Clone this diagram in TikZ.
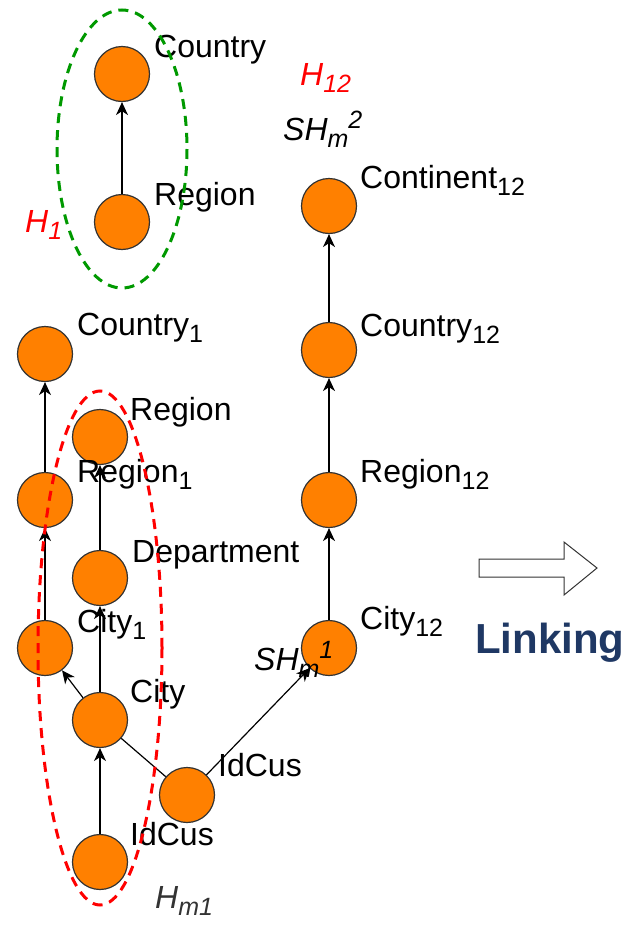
\documentclass[tikz,border=0pt]{standalone}
\usepackage{fontspec}
\setmainfont{Liberation Sans}
\usepackage{tikz}
\usetikzlibrary{arrows.meta, positioning}
\definecolor{nodefill}{RGB}{255,128,0}
\definecolor{nodeline}{RGB}{51,51,51}
\definecolor{hgreen}{RGB}{0,153,0}
\definecolor{linkblue}{RGB}{31,56,100}
\newcommand{\lsub}[1]{\raisebox{-7pt}{\fontsize{25}{28}\selectfont #1}}
\newcommand{\lsup}[1]{\raisebox{12pt}{\fontsize{25}{28}\selectfont #1}}

\begin{document}
\begin{tikzpicture}[
  x=1pt, y=-1pt,
  vertex/.style={circle, draw=nodeline, line width=1.2pt, fill=nodefill, minimum size=55pt, inner sep=0pt},
  lbl/.style={anchor=base west, inner sep=0pt, font=\fontsize{32}{38}\selectfont},
  hname/.style={anchor=base west, inner sep=0pt, font=\fontsize{32}{38}\selectfont\itshape},
  edge/.style={-{Stealth[length=13pt, width=12pt, inset=4pt]}, line width=1.2pt},
  hier/.style={line width=3pt, dash pattern=on 10pt off 7pt}
]
  \useasboundingbox (0,0) rectangle (628,929);

  % Column X coordinates
  \def\aX{45}
  \def\bX{100}
  \def\hX{122}
  \def\iX{187}
  \def\sX{329}

  % Hierarchy H1
  \node[vertex] (ctryH) at (\hX, 74) {};
  \node[vertex] (regH)  at (\hX, 222) {};

  % Hierarchy H12 (SHm2)
  \node[vertex] (cont12) at (\sX, 206) {};
  \node[vertex] (ctry12) at (\sX, 350) {};
  \node[vertex] (reg12)  at (\sX, 500) {};
  \node[vertex] (city12) at (\sX, 648) {};

  % Hierarchy Hm1 and SHm1
  \node[vertex] (ctry1) at (\aX, 354) {};
  \node[vertex] (reg1)  at (\aX, 500) {};
  \node[vertex] (city1) at (\aX, 648) {};
  \node[vertex] (reg)   at (\bX, 437) {};
  \node[vertex] (dept)  at (\bX, 578) {};
  \node[vertex] (city)  at (\bX, 720) {};
  \node[vertex] (idB)   at (\bX, 862) {};
  \node[vertex] (idR)   at (\iX, 795) {};

  % Roll-up arrows
  \draw[edge] (regH) -- (ctryH);
  \draw[edge] (ctry12) -- (cont12);
  \draw[edge] (reg12) -- (ctry12);
  \draw[edge] (city12) -- (reg12);
  \draw[edge] (reg1) -- (ctry1);
  \draw[edge] (city1) -- (reg1);
  \draw[edge] (dept) -- (reg);
  \draw[edge] (city) -- (dept);
  \draw[edge] (city) -- (city1);
  \draw[edge] (idB) -- (city);
  \draw[line width=1.2pt] (idR) -- (city);
  \draw[edge] (idR) -- (city12);

  % Level labels
  \node[lbl] (ctryHL)  at (\hX+32, 57) {Country};
  \node[lbl] (regHL)   at (\hX+32, 205) {Region};
  \node[lbl] (cont12L) at (\sX+31, 188) {Continent\lsub{12}};
  \node[lbl] (ctry12L) at (\sX+31, 336) {Country\lsub{12}};
  \node[lbl] (reg12L)  at (\sX+31, 482) {Region\lsub{12}};
  \node[lbl] (city12L) at (\sX+31, 629) {City\lsub{12}};
  \node[lbl] (ctry1L)  at (\aX+32, 335) {Country\lsub{1}};
  \node[lbl] (reg1L)   at (\aX+32, 482) {Region\lsub{1}};
  \node[lbl] (city1L)  at (\aX+32, 632) {City\lsub{1}};
  \node[lbl] (regL)    at (\bX+30, 420) {Region};
  \node[lbl] (deptL)   at (\bX+32, 562) {Department};
  \node[lbl] (cityL)   at (\bX+30, 702) {City};
  \node[lbl] (idBL)    at (\bX+30, 845) {IdCus};
  \node[lbl] (idRL)    at (\iX+31, 776) {IdCus};

  % Hierarchy names
  \node[hname, text=red] (h1) at (25, 232) {H\lsub{1}};
  \node[hname, text=red] (h12) at (300, 85) {H\lsub{12}};
  \node[hname] (shm2) at (283, 140) {SH\lsub{m}\lsup{2}};
  \node[hname] (shm1) at (254, 670) {SH\lsub{m}\lsup{1}};
  \node[hname, text=nodeline] (hm1) at (155, 908) {H\lsub{m1}};

  % Dashed hierarchy outlines
  \draw[hier, hgreen] (\hX, 149) ellipse [x radius=65, y radius=139];
  \draw[hier, red] (\bX, 648) ellipse [x radius=62, y radius=257];

  % Linking arrow
  \draw[nodeline, line width=1pt] (479,559) -- (564,559) -- (564,542) -- (597,568)
    -- (564,595) -- (564,577) -- (479,577) -- cycle;
  \node[anchor=base west, inner sep=0pt, text=linkblue, font=\fontsize{42}{50}\selectfont\bfseries] (linking) at (475, 653) {Linking};

\end{tikzpicture}
\end{document}
